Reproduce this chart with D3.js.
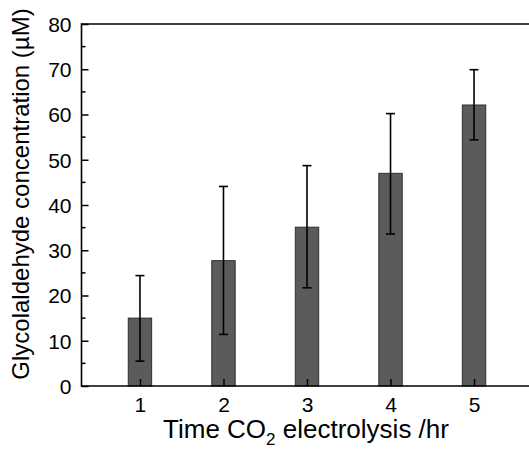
<!DOCTYPE html>
<html>
<head>
<meta charset="utf-8">
<script src="https://cdn.jsdelivr.net/npm/d3@7"></script>
<style>
  html, body { margin: 0; padding: 0; background: #fff; }
  svg { display: block; }
  text { font-family: "Liberation Sans", Arial, sans-serif; fill: #000; }
</style>
</head>
<body>
<svg id="chart" width="529" height="460"></svg>
<script>
// ---- data ----
const hours = [1, 2, 3, 4, 5];
const concentration = [15.0, 27.7, 35.1, 47.0, 62.1];
const errUpper = [9.4, 16.4, 13.6, 13.2, 7.8];
const errLower = [9.5, 16.3, 13.4, 13.4, 7.7];
const yTicks = [0, 10, 20, 30, 40, 50, 60, 70, 80];
const yMinorTicks = [5, 15, 25, 35, 45, 55, 65, 75];

// ---- layout ----
const svg = d3.select("#chart");
const mLeft = 81.5, mTop = 24, mBottom = 386, mRight = 532.5;

const x = d3.scaleLinear().domain([0.3, 5.7]).range([mLeft, mRight]);
const y = d3.scaleLinear().domain([0, 80]).range([mBottom, mTop]);
const barW = x(1.28) - x(1);

// bars
svg.append("g").selectAll("rect").data(hours).join("rect")
  .attr("x", (d) => x(d) - barW / 2)
  .attr("y", (d, i) => y(concentration[i]))
  .attr("width", barW)
  .attr("height", (d, i) => y(0) - y(concentration[i]))
  .attr("fill", "#5b5b5b")
  .attr("stroke", "#2e2e2e")
  .attr("stroke-width", 1);

// error bars
const eg = svg.append("g").attr("stroke", "#000").attr("stroke-width", 1.6);
hours.forEach((d, i) => {
  const hi = y(concentration[i] + errUpper[i]);
  const lo = y(concentration[i] - errLower[i]);
  eg.append("line").attr("x1", x(d)).attr("x2", x(d)).attr("y1", hi).attr("y2", lo);
  eg.append("line").attr("x1", x(d) - 4.5).attr("x2", x(d) + 4.5).attr("y1", hi).attr("y2", hi);
  eg.append("line").attr("x1", x(d) - 4.5).attr("x2", x(d) + 4.5).attr("y1", lo).attr("y2", lo);
});

// y axis (ticks inside)
const yAxis = d3.axisLeft(y).tickValues(yTicks).tickSize(-7).tickPadding(10).tickFormat(d3.format("d"));
const gy = svg.append("g").attr("transform", `translate(${mLeft},0)`).call(yAxis);
gy.attr("font-family", null).attr("font-size", null);
gy.select(".domain").remove();
gy.selectAll(".tick line").attr("stroke", "#000").attr("stroke-width", 1.5);
gy.selectAll(".tick text").style("font-size", "21px").attr("dy", "0.35em");
svg.append("g").selectAll("line").data(yMinorTicks).join("line")
  .attr("x1", mLeft).attr("x2", mLeft + 4)
  .attr("y1", (d) => y(d)).attr("y2", (d) => y(d))
  .attr("stroke", "#000").attr("stroke-width", 1.5);

// x axis (ticks inside)
const xAxis = d3.axisBottom(x).tickValues(hours).tickSize(-7).tickPadding(11).tickFormat(d3.format("d"));
const gx = svg.append("g").attr("transform", `translate(0,${mBottom})`).call(xAxis);
gx.attr("font-family", null).attr("font-size", null);
gx.select(".domain").remove();
gx.selectAll(".tick line").attr("stroke", "#000").attr("stroke-width", 1.5);
gx.selectAll(".tick text").style("font-size", "21px");

// frame
const frame = svg.append("g").attr("stroke", "#000").attr("stroke-width", 1.6).attr("fill", "none");
frame.append("line").attr("x1", mLeft).attr("x2", mRight).attr("y1", mTop).attr("y2", mTop);
frame.append("line").attr("x1", mLeft).attr("x2", mLeft).attr("y1", mTop - 0.8).attr("y2", mBottom + 0.8);
frame.append("line").attr("x1", mLeft).attr("x2", mRight).attr("y1", mBottom).attr("y2", mBottom);
frame.append("line").attr("x1", mRight).attr("x2", mRight).attr("y1", mTop).attr("y2", mBottom);

// axis titles
const xt = svg.append("text")
  .attr("x", 306).attr("y", 438)
  .attr("text-anchor", "middle")
  .style("font-size", "26px");
xt.append("tspan").text("Time CO");
xt.append("tspan").attr("dy", 7).style("font-size", "17px").text("2");
xt.append("tspan").attr("dy", -7).text(" electrolysis /hr");

svg.append("text")
  .attr("transform", "translate(29,194) rotate(-90)")
  .attr("text-anchor", "middle")
  .style("font-size", "24px")
  .text("Glycolaldehyde concentration (\u00B5M)");
</script>
</body>
</html>
